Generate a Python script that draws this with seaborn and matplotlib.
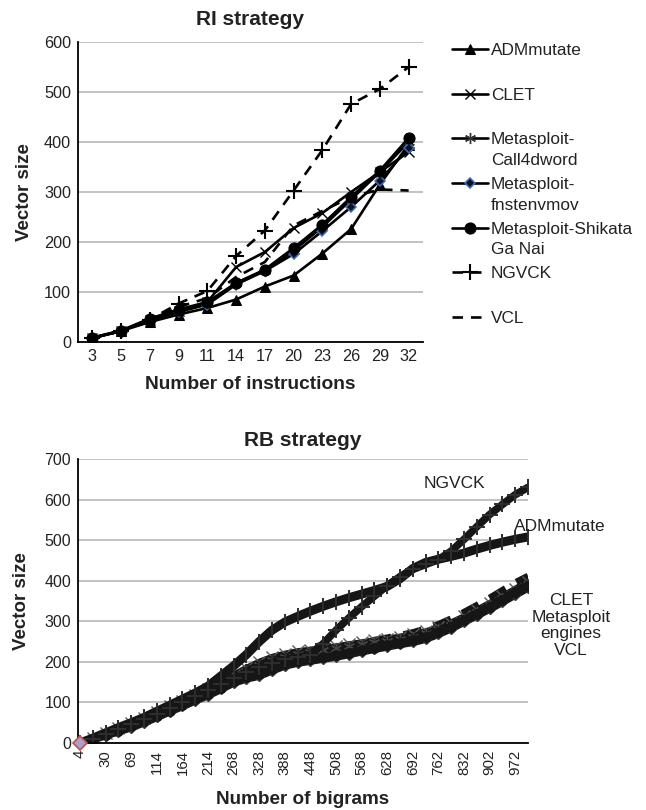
import numpy as np
import pandas as pd
import matplotlib
matplotlib.use("Agg")
import matplotlib.pyplot as plt
import seaborn as sns

# ---------------- RI strategy data ----------------
ri_instructions = [3, 5, 7, 9, 11, 14, 17, 20, 23, 26, 29, 32]
ri_admmutate   = [8, 22, 40, 55, 68, 85, 111, 133, 177, 226, 315, 395]
ri_clet        = [8, 22, 45, 62, 80, 150, 180, 228, 258, 300, 340, 380]
ri_call4dword  = [8, 22, 45, 62, 78, 118, 143, 183, 230, 285, 340, 400]
ri_fnstenvmov  = [8, 22, 44, 60, 75, 115, 142, 176, 222, 270, 323, 388]
ri_shikata     = [9, 23, 47, 65, 80, 118, 145, 188, 235, 290, 343, 408]
ri_ngvck       = [8, 22, 45, 77, 102, 172, 223, 303, 384, 476, 506, 550]
ri_vcl         = [8, 22, 45, 70, 88, 130, 160, 233, 262, 290, 305, 303]
ri_names = ["ADMmutate", "CLET", "Metasploit-\nCall4dword", "Metasploit-\nfnstenvmov",
            "Metasploit-Shikata\nGa Nai", "NGVCK", "VCL"]

# ---------------- RB strategy data ----------------
rb_bigrams = [4, 17, 30, 49, 69, 91, 114, 139, 164, 189, 214, 241, 268, 298,
              328, 358, 388, 418, 448, 478, 508, 538, 568, 598, 628, 660,
              692, 727, 762, 797, 832, 867, 902, 937, 972, 1007]
rb_admmutate = [0, 12, 25, 38, 50, 63, 78, 93, 108, 123, 140, 165, 190, 218,
                250, 278, 298, 312, 325, 337, 348, 358, 367, 376, 386, 405,
                430, 445, 453, 460, 468, 478, 487, 495, 502, 508]
rb_ngvck = [0, 10, 22, 34, 46, 58, 72, 86, 100, 115, 130, 145, 160, 175,
            188, 198, 206, 211, 218, 245, 278, 308, 336, 362, 388, 410,
            428, 440, 452, 473, 502, 533, 563, 588, 612, 630]
rb_clet = [0, 12, 25, 38, 50, 62, 76, 90, 104, 118, 132, 150, 168, 185,
           200, 212, 220, 226, 230, 234, 238, 243, 248, 253, 257, 262,
           268, 275, 285, 297, 312, 328, 345, 362, 380, 398]
rb_call4dword = [0, 10, 22, 33, 44, 56, 70, 84, 98, 112, 126, 142, 160, 178,
                 193, 205, 213, 219, 224, 229, 233, 238, 243, 248, 252, 257,
                 262, 270, 280, 292, 306, 322, 340, 357, 375, 392]
rb_fnstenvmov = [0, 8, 18, 28, 38, 50, 63, 77, 90, 104, 117, 132, 148, 158,
                 165, 178, 190, 197, 202, 207, 212, 218, 225, 231, 237, 243,
                 248, 256, 268, 282, 298, 314, 330, 347, 365, 382]
rb_shikata = [0, 9, 20, 30, 41, 53, 66, 80, 94, 108, 121, 136, 152, 162,
              170, 183, 195, 201, 206, 211, 216, 222, 229, 235, 241, 247,
              253, 261, 273, 287, 303, 319, 336, 353, 372, 388]
rb_vcl = [0, 11, 24, 36, 48, 60, 74, 88, 102, 116, 130, 147, 165, 182,
          196, 208, 216, 222, 227, 232, 237, 242, 248, 254, 260, 266,
          273, 282, 293, 307, 323, 340, 358, 377, 396, 412]

sns.set_theme(style="white")
plt.rcParams["font.family"] = ["Liberation Sans", "DejaVu Sans"]

fig = plt.figure(figsize=(6.46, 8.10), dpi=100)
W, H = 646, 810
ax1 = fig.add_axes([78 / W, 1 - 342 / H, 345 / W, 300 / H])
ax2 = fig.add_axes([78 / W, 1 - 743 / H, 450 / W, 284 / H])

GRID = "#bdbdbd"
TXT = "#222222"


def style_axes(ax, size):
    ax.yaxis.grid(True, color=GRID, lw=1.3)
    ax.xaxis.grid(False)
    ax.set_axisbelow(True)
    for s in ["top", "right"]:
        ax.spines[s].set_visible(False)
    for s in ["left", "bottom"]:
        ax.spines[s].set_color("black")
        ax.spines[s].set_linewidth(1.3)
    ax.tick_params(length=0, labelsize=size, colors=TXT, pad=5)


# ---------------- top chart ----------------
pos1 = np.arange(len(ri_instructions))
ri_values = [ri_admmutate, ri_clet, ri_call4dword, ri_fnstenvmov, ri_shikata, ri_ngvck, ri_vcl]
ri_styles = [
    dict(marker="^", ms=7, mfc="black", mec="black", ls="-"),
    dict(marker="x", ms=7, mec="black", mew=1.0, ls="-"),
    dict(marker=(6, 2, 0), ms=8, mec="#333333", mew=1.0, ls="-"),
    dict(marker="D", ms=5.5, mfc="#101020", mec="#3d6db5", mew=1.1, ls="-"),
    dict(marker="o", ms=8, mfc="black", mec="black", ls="-"),
    dict(marker="+", ms=11, mec="black", mew=1.5, ls=(0, (4, 3))),
    dict(marker=None, ls=(0, (4, 3))),
]
for name, vals, kw in zip(ri_names, ri_values, ri_styles):
    sns.lineplot(x=pos1, y=vals, ax=ax1, color="black", lw=1.9,
                 label=name.split("\n")[0], **kw)

ax1.set_xlim(-0.5, len(ri_instructions) - 0.5)
ax1.set_ylim(0, 600)
ax1.set_yticks(range(0, 601, 100))
ax1.set_xticks(pos1)
ax1.set_xticklabels([str(v) for v in ri_instructions])
style_axes(ax1, 11.7)
ax1.set_title("RI strategy", fontsize=15, fontweight="bold", pad=12, color=TXT)
ax1.set_xlabel("Number of instructions", fontsize=13.8, fontweight="bold", color=TXT, labelpad=9)
ax1.set_ylabel("Vector size", fontsize=13.5, fontweight="bold", color=TXT, labelpad=8)

handles, labels = ax1.get_legend_handles_labels()
ax1.legend_.remove()
LEG_FS = 12.4
leg = fig.legend(handles, labels, loc="upper left", bbox_to_anchor=(452 / W, 1 - 43 / H),
                 frameon=False, fontsize=LEG_FS, handlelength=2.1, handletextpad=0.15,
                 labelspacing=1.72, borderpad=0, borderaxespad=0, labelcolor=TXT)

# ---------------- bottom chart ----------------
pos2 = np.arange(len(rb_bigrams)) * 0.5
band = "#161616"
rb_values = [rb_vcl, rb_clet, rb_call4dword, rb_fnstenvmov, rb_shikata, rb_admmutate, rb_ngvck]
rb_styles = [
    dict(marker=None, ls=(0, (3, 2)), lw=4.5),
    dict(marker="x", ms=8, mec="#5a5a5a", mew=1.0, ls="-", lw=4.5),
    dict(marker=(6, 2, 0), ms=8, mec="#444444", mew=1.0, ls="-", lw=5.0),
    dict(marker="D", ms=5, mfc=band, mec="#3a3a3a", mew=1.0, ls="-", lw=5.5),
    dict(marker="o", ms=7, mfc=band, mec=band, ls="-", lw=5.5),
    dict(marker="|", ms=12, mec="#2e2e2e", mew=1.4, ls="-", lw=6.5),
    dict(marker="+", ms=12, mec="#2e2e2e", mew=1.4, ls="-", lw=5.5),
]
for vals, kw in zip(rb_values, rb_styles):
    sns.lineplot(x=pos2, y=vals, ax=ax2, color=band, **kw)
ax2.plot(pos2[0], rb_vcl[0], marker="D", ms=7, mfc="#a9a0cc", mec="#c0504d", mew=1.2,
         ls="none", zorder=5, clip_on=False)

ax2.set_xlim(-0.08, pos2[-1])
ax2.set_ylim(0, 700)
ax2.set_yticks(range(0, 701, 100))
ax2.set_xticks(pos2[::2])
ax2.set_xticklabels([str(v) for v in rb_bigrams[::2]], rotation=90)
style_axes(ax2, 11.5)
ax2.tick_params(axis="x", labelsize=10.8)
ax2.set_title("RB strategy", fontsize=15, fontweight="bold", pad=9, color=TXT)
ax2.set_xlabel("Number of bigrams", fontsize=13.6, fontweight="bold", color=TXT, labelpad=11)
ax2.set_ylabel("Vector size", fontsize=13.5, fontweight="bold", color=TXT, labelpad=10)

ax2.text(0.836, 0.912, "NGVCK", transform=ax2.transAxes, ha="center", va="center",
         fontsize=12.5, color=TXT)
ax2.text(1.071, 0.764, "ADMmutate", transform=ax2.transAxes, ha="center", va="center",
         fontsize=12.5, color=TXT)
ax2.text(1.096, 0.414, "CLET\nMetasploit\nengines\nVCL", transform=ax2.transAxes,
         ha="center", va="center", fontsize=12.5, color=TXT, linespacing=1.15)

# continuation lines of the two-line legend labels, placed under their first lines
fig.canvas.draw()
renderer = fig.canvas.get_renderer()
for txt, full in zip(leg.get_texts(), ri_names):
    parts = full.split("\n")
    if len(parts) > 1:
        bb = txt.get_window_extent(renderer)
        fig.text(bb.x0 / fig.bbox.width, (bb.y0 - 20.5) / fig.bbox.height, parts[1],
                 ha="left", va="bottom", fontsize=LEG_FS, color=TXT)

fig.savefig("out.png", dpi=100)
